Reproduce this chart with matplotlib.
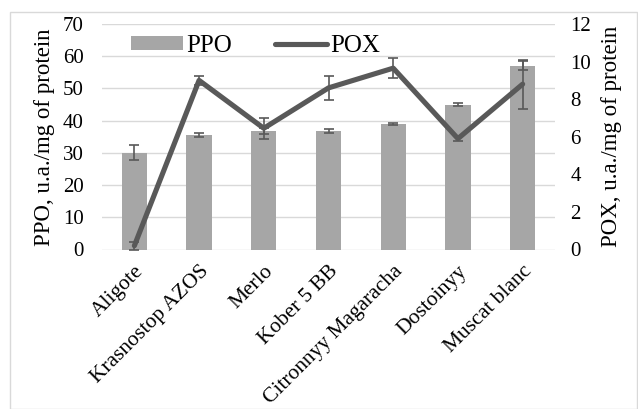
import matplotlib
matplotlib.use("Agg")
import matplotlib.pyplot as plt
from matplotlib.patches import Rectangle
import numpy as np

plt.rcParams['font.family'] = ['Liberation Serif', 'DejaVu Serif']

categories = ["Aligote", "Krasnostop AZOS", "Merlo", "Kober 5 BB",
              "Citronnyy Magaracha", "Dostoinyy", "Muscat blanc"]
ppo = [30.0, 35.5, 36.7, 36.8, 38.9, 45.0, 57.1]
ppo_err = [2.3, 0.7, 1.0, 0.6, 0.3, 0.6, 1.4]
pox = [0.2, 9.0, 6.45, 8.6, 9.65, 5.9, 8.8]
pox_err = [0.2, 0.25, 0.55, 0.62, 0.53, 0.15, 1.3]

fig = plt.figure(figsize=(6.38, 4.09), dpi=100)
fig.patches.append(Rectangle((10/638, 0.0), 1 - 11/638, 1 - 12/409,
                             transform=fig.transFigure, fill=False,
                             edgecolor='#D9D9D9', lw=1))
ax = fig.add_axes([102/638, 1 - 249.5/409, 453/638, 225.5/409])
x = np.arange(len(categories))
ax.bar(x, ppo, width=0.39, color='#A6A6A6', label='PPO', zorder=2)
ax.errorbar(x, ppo, yerr=ppo_err, fmt='none', ecolor='#595959',
            elinewidth=1.2, capsize=3.5, capthick=1.2, zorder=3)
ax.set_ylim(0, 70)
ax.set_yticks(range(0, 71, 10))
ax.set_xlim(-0.5, len(categories) - 0.5)
ax.grid(axis='y', color='#D9D9D9', lw=1, zorder=0)
ax.set_axisbelow(True)
for s in ax.spines.values():
    s.set_visible(False)
ax.tick_params(axis='y', length=0, labelsize=15, colors='black', pad=13)
ax.tick_params(axis='x', length=0, colors='black', pad=9)
ax.set_xticks(x)
ax.set_xticklabels(categories, rotation=45, ha='right', rotation_mode='anchor',
                   fontsize=15.5)
ax.set_ylabel("PPO, u.a./mg of protein", fontsize=16.5, labelpad=6)

ax2 = ax.twinx()
ax2.plot(x, pox, color='#595959', lw=3.7, label='POX', zorder=4,
         solid_capstyle='round')
ax2.errorbar(x, pox, yerr=pox_err, fmt='none', ecolor='#595959',
             elinewidth=1.2, capsize=3.5, capthick=1.2, zorder=5)
ax2.set_ylim(0, 12)
ax2.set_yticks(range(0, 13, 2))
for s in ax2.spines.values():
    s.set_visible(False)
ax2.tick_params(length=0, labelsize=15, colors='black', pad=11)
ax2.set_ylabel("POX, u.a./mg of protein", fontsize=16.5, labelpad=7)

h1, l1 = ax.get_legend_handles_labels()
h2, l2 = ax2.get_legend_handles_labels()
leg = ax.legend(h1 + h2, l1 + l2, loc='upper left', ncol=2, frameon=False,
                fontsize=18, bbox_to_anchor=(0.025, 1.03), handlelength=2.1,
                handleheight=0.45, columnspacing=1.7, handletextpad=0.12,
                borderpad=0.2)

fig.savefig("out.png", dpi=100)
